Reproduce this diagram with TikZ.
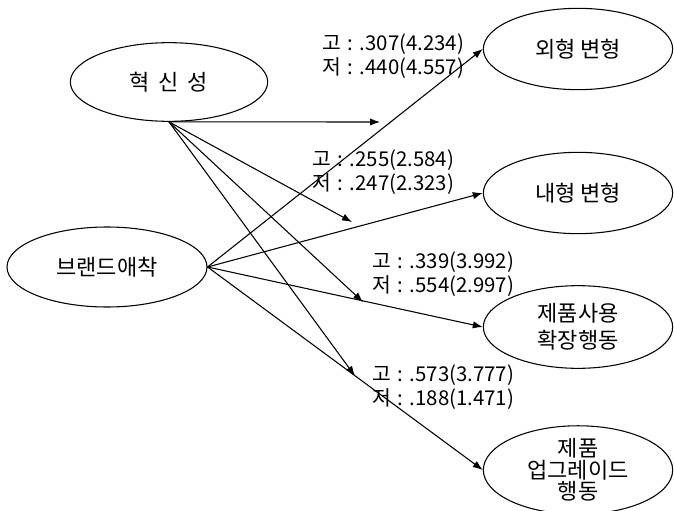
\documentclass[tikz,border=0pt]{standalone}
\usepackage{fontspec}
\setmainfont{Noto Sans CJK KR}
\usetikzlibrary{arrows.meta,shapes.geometric}
\newcommand{\gsep}{\hspace{0.32em}:\hspace{0.32em}}
\begin{document}
\begin{tikzpicture}[x=0.75pt,y=-0.75pt,
  ell/.style={draw, ellipse, line width=0.8pt, inner sep=0pt, align=center,
    font=\fontsize{16.5pt}{20pt}\selectfont},
  lbl/.style={anchor=west, align=left, inner sep=0pt,
    font=\fontsize{15.3pt}{18pt}\selectfont},
  arr/.style={line width=0.8pt, -{Latex[length=7.5pt,width=5.5pt]}}]
\useasboundingbox[fill=white] (0,0) rectangle (674,510);

\node[ell, minimum width=148pt, minimum height=59pt] (inn) at (169,82) {혁\hspace{0.4em}신\hspace{0.4em}성};
\node[ell, minimum width=150pt, minimum height=60pt] (brand) at (107,267) {브랜드애착};
\node[ell, minimum width=142pt, minimum height=61pt] (ext) at (578,49) {외형 변형};
\node[ell, minimum width=142pt, minimum height=61pt] (int) at (578,193) {내형 변형};
\node[ell, minimum width=142pt, minimum height=62pt,
      font=\fontsize{16.5pt}{20pt}\selectfont] (use) at (578,327) {제품사용\\확장행동};
\node[ell, minimum width=142pt, minimum height=64pt,
      font=\fontsize{16.5pt}{16pt}\selectfont] (upg) at (578,470) {제품\\업그레이드\\행동};

\coordinate (t1) at (380,122);
\coordinate (t2) at (352,222);
\coordinate (t3) at (363,302);
\coordinate (t4) at (355,376);

\draw[arr] (inn.south) -- (t1);
\draw[arr] (inn.south) -- (t2);
\draw[arr] (inn.south) -- (t3);
\draw[arr] (inn.south) -- (t4);

\draw[arr] (brand.east) -- (ext.west);
\draw[arr] (brand.east) -- (int.west);
\draw[arr] (brand.east) -- (use.west);
\draw[arr] (brand.east) -- (upg.west);

\node[lbl] (l1) at (322,56) {고\gsep.307(4.234)\\저\gsep.440(4.557)};
\node[lbl] (l2) at (312,172) {고\gsep.255(2.584)\\저\gsep.247(2.323)};
\node[lbl] (l3) at (372,274) {고\gsep.339(3.992)\\저\gsep.554(2.997)};
\node[lbl] (l4) at (372,387) {고\gsep.573(3.777)\\저\gsep.188(1.471)};
\end{tikzpicture}
\end{document}
